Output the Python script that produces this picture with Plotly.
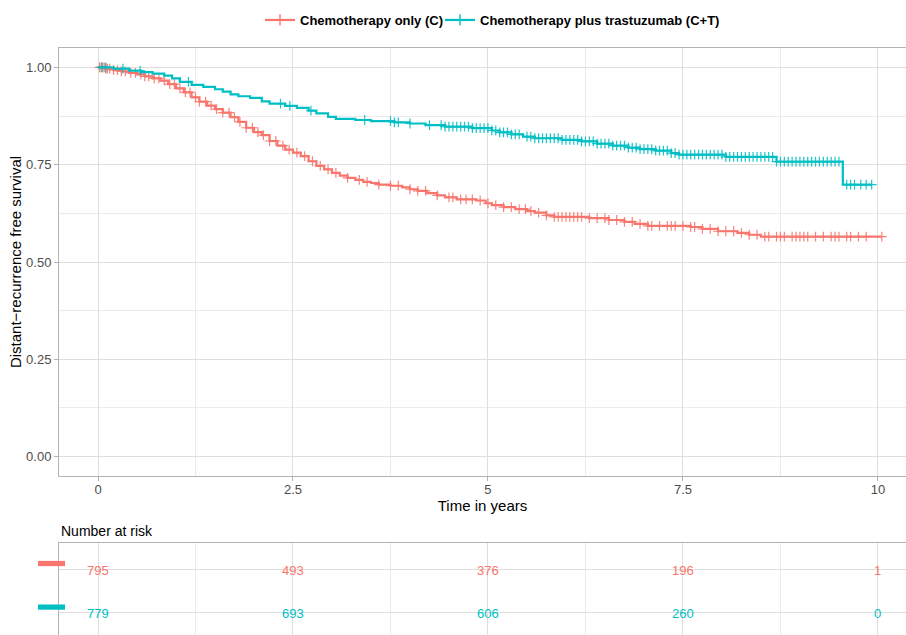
import plotly.graph_objects as go
import bisect

# ---------------- data ----------------
group_names = ["Chemotherapy only (C)", "Chemotherapy plus trastuzumab (C+T)"]
group_colors = ["#F8766D", "#00BFC4"]

# Kaplan-Meier step points (time in years, survival)
c_times = [0, 0.1, 0.2, 0.3, 0.4, 0.5, 0.6, 0.7, 0.8, 0.9, 1.0, 1.1, 1.2, 1.3, 1.4,
           1.5, 1.6, 1.7, 1.8, 1.9, 2.0, 2.1, 2.2, 2.3, 2.4, 2.5, 2.6, 2.7, 2.8, 2.9,
           3.0, 3.1, 3.2, 3.3, 3.4, 3.5, 3.6, 3.75, 3.9, 4.0, 4.1, 4.22, 4.35, 4.45,
           4.6, 4.85, 4.97, 5.05, 5.2, 5.35, 5.5, 5.6, 5.75, 5.85, 6.3, 6.55, 6.75,
           6.88, 7.05, 7.6, 7.75, 7.95, 8.2, 8.35, 8.5, 10.05]
c_surv = [1.0, 0.997, 0.993, 0.99, 0.986, 0.982, 0.977, 0.972, 0.966, 0.957, 0.946,
          0.936, 0.923, 0.912, 0.902, 0.893, 0.884, 0.872, 0.86, 0.845, 0.834, 0.826,
          0.811, 0.799, 0.789, 0.781, 0.772, 0.759, 0.747, 0.738, 0.729, 0.722, 0.716,
          0.711, 0.706, 0.703, 0.699, 0.696, 0.692, 0.687, 0.683, 0.677, 0.671, 0.666,
          0.661, 0.658, 0.651, 0.646, 0.641, 0.636, 0.631, 0.627, 0.62, 0.616, 0.613,
          0.608, 0.603, 0.598, 0.593, 0.59, 0.585, 0.579, 0.575, 0.57, 0.565, 0.565]

ct_times = [0, 0.2, 0.4, 0.55, 0.7, 0.85, 0.95, 1.05, 1.2, 1.35, 1.5, 1.6, 1.7, 1.8,
            1.95, 2.1, 2.2, 2.4, 2.55, 2.7, 2.8, 2.95, 3.05, 3.3, 3.5, 3.8, 4.0, 4.2,
            4.45, 4.8, 5.05, 5.15, 5.3, 5.45, 5.6, 5.95, 6.2, 6.4, 6.6, 6.8, 6.95,
            7.15, 7.35, 7.45, 8.05, 8.7, 9.55, 9.92]
ct_surv = [1.0, 0.997, 0.992, 0.988, 0.984, 0.979, 0.972, 0.963, 0.955, 0.95, 0.944,
           0.938, 0.931, 0.926, 0.922, 0.913, 0.907, 0.901, 0.896, 0.889, 0.882, 0.873,
           0.868, 0.865, 0.862, 0.859, 0.856, 0.852, 0.848, 0.844, 0.838, 0.833, 0.828,
           0.822, 0.818, 0.814, 0.81, 0.804, 0.799, 0.794, 0.79, 0.786, 0.78, 0.776,
           0.77, 0.758, 0.699, 0.699]

# censoring times (the "+" marks)
c_censor = [0.02, 0.04, 0.06, 0.08, 0.1, 0.12, 0.15, 0.2, 0.25, 0.3, 0.35, 0.42, 0.48,
            0.55, 0.6, 0.65, 0.72, 0.78, 0.85, 0.92, 0.98, 1.05, 1.12, 1.18, 1.25, 1.3,
            1.38, 1.45, 1.52, 1.6, 1.68, 1.75, 1.82, 1.9, 1.98, 2.05, 2.12, 2.2, 2.28,
            2.37, 2.45, 2.55, 2.65, 2.75, 2.85, 2.95, 3.05, 3.2, 3.35, 3.45, 3.6, 3.75,
            3.85, 4.0, 4.1, 4.2, 4.35, 4.5, 4.55, 4.65, 4.72, 4.8, 4.9, 5.0, 5.1, 5.2,
            5.3, 5.4, 5.48, 5.55, 5.65, 5.75, 5.85, 5.9, 5.95, 6.0, 6.05, 6.1, 6.15,
            6.2, 6.3, 6.4, 6.5, 6.55, 6.65, 6.75, 6.85, 6.95, 7.05, 7.1, 7.2, 7.3,
            7.35, 7.4, 7.5, 7.6, 7.65, 7.75, 7.85, 7.95, 8.05, 8.15, 8.25, 8.35, 8.45,
            8.55, 8.6, 8.7, 8.75, 8.8, 8.9, 8.95, 9.0, 9.05, 9.1, 9.2, 9.3, 9.4, 9.45,
            9.5, 9.6, 9.65, 9.75, 9.85, 10.05]
ct_censor = [0.05, 0.1, 0.32, 0.54, 1.16, 2.34, 2.46, 2.73, 3.42, 3.75, 3.8, 3.85, 4.0,
             4.25, 4.4, 4.45, 4.5, 4.55, 4.6, 4.65, 4.7, 4.75, 4.8, 4.85, 4.9, 4.95,
             5.0, 5.05, 5.1, 5.15, 5.2, 5.25, 5.3, 5.35, 5.4, 5.5, 5.55, 5.6, 5.65,
             5.7, 5.75, 5.8, 5.85, 5.9, 5.95, 6.0, 6.05, 6.1, 6.15, 6.2, 6.25, 6.3,
             6.35, 6.4, 6.45, 6.5, 6.55, 6.6, 6.65, 6.7, 6.75, 6.8, 6.85, 6.9, 6.95,
             7.0, 7.05, 7.1, 7.15, 7.2, 7.25, 7.3, 7.35, 7.4, 7.45, 7.5, 7.55, 7.6,
             7.65, 7.7, 7.75, 7.8, 7.85, 7.9, 7.95, 8.0, 8.05, 8.1, 8.15, 8.2, 8.25,
             8.3, 8.35, 8.4, 8.45, 8.5, 8.55, 8.6, 8.65, 8.7, 8.75, 8.8, 8.85, 8.9,
             8.95, 9.0, 9.05, 9.1, 9.15, 9.2, 9.25, 9.3, 9.35, 9.4, 9.45, 9.5, 9.6,
             9.65, 9.7, 9.78, 9.85, 9.92]

# number at risk table
risk_times = [0, 2.5, 5, 7.5, 10]
risk_c = [795, 493, 376, 196, 1]
risk_ct = [779, 693, 606, 260, 0]

x_ticks = [0, 2.5, 5, 7.5, 10]
x_tick_labels = ["0", "2.5", "5", "7.5", "10"]
y_ticks = [0, 0.25, 0.5, 0.75, 1.0]
y_tick_labels = ["0.00", "0.25", "0.50", "0.75", "1.00"]

# ---------------- helpers ----------------
def surv_at(times, surv, t):
    i = bisect.bisect_right(times, t) - 1
    return surv[max(i, 0)]

FONT = "Liberation Sans, Arial, Helvetica, sans-serif"
GRID = "#DEDEDE"
GRID_MINOR = "#EBEBEB"
BORDER = "#B3B3B3"

H = 635
T = 48
plot_h = H - T
main_bottom = (H - 476) / plot_h
risk_top = (H - 543) / plot_h

fig = go.Figure()

legend_ids = ["legend", "legend2"]
curves = [(c_times, c_surv, c_censor), (ct_times, ct_surv, ct_censor)]
for (tt, ss, cens), name, col, lg in zip(curves, group_names, group_colors, legend_ids):
    fig.add_trace(go.Scatter(x=tt, y=ss, mode="lines", line=dict(color=col, width=2.2, shape="hv"),
                             showlegend=False, hoverinfo="skip", xaxis="x", yaxis="y"))
    fig.add_trace(go.Scatter(x=cens, y=[surv_at(tt, ss, t) for t in cens], mode="markers",
                             marker=dict(symbol="cross-thin", size=7, color=col, opacity=0.9,
                                         line=dict(color=col, width=1.2)),
                             showlegend=False, hoverinfo="skip", xaxis="x", yaxis="y"))
    # legend entry
    fig.add_trace(go.Scatter(x=[None], y=[None], mode="lines+markers", name=name, legend=lg,
                             line=dict(color=col, width=2.2),
                             marker=dict(symbol="cross-thin", size=8, color=col,
                                         line=dict(color=col, width=1.4)),
                             xaxis="x", yaxis="y"))

# risk table text (data-positioned annotations on the table axes)
for row, (vals, col) in enumerate([(risk_c, group_colors[0]), (risk_ct, group_colors[1])], start=1):
    for t, v in zip(risk_times, vals):
        fig.add_annotation(x=t, y=row, xref="x2", yref="y2", text=str(v), showarrow=False,
                           yshift=-1, font=dict(color=col, size=13, family=FONT))

xcommon = dict(range=[-0.5, 10.36], tickvals=x_ticks, showgrid=True, gridcolor=GRID, gridwidth=1,
               minor=dict(tickvals=[1.25, 3.75, 6.25, 8.75], showgrid=True, gridcolor=GRID_MINOR,
                          gridwidth=0.6),
               zeroline=False, linecolor=BORDER, linewidth=1, automargin=False)

legend_common = dict(orientation="h", xanchor="left", y=1 + (T - 20) / plot_h, yanchor="middle",
                     font=dict(size=13, weight="bold", color="#000000"), itemwidth=30,
                     bgcolor="rgba(0,0,0,0)")

fig.update_layout(
    width=906, height=635,
    margin=dict(l=59, r=0, t=T, b=0, autoexpand=False),
    paper_bgcolor="white", plot_bgcolor="white",
    font=dict(family=FONT, color="#000000"),
    showlegend=True,
    legend=dict(x=(260 - 59) / 847, **legend_common),
    legend2=dict(x=(440 - 59) / 847, **legend_common),
    xaxis=dict(domain=[0, 1], anchor="y", ticktext=x_tick_labels, showline=True, mirror=True,
               ticks="outside", ticklen=4, tickcolor=BORDER, tickwidth=1, ticklabelstandoff=-3,
               tickfont=dict(size=13, color="#4D4D4D"),
               title=dict(text="Time in years", font=dict(size=15, color="#000000"), standoff=0),
               **xcommon),
    yaxis=dict(domain=[main_bottom, 1], anchor="x", range=[-0.05, 1.05], tickvals=y_ticks,
               ticktext=y_tick_labels, showgrid=True, gridcolor=GRID, gridwidth=1,
               minor=dict(tickvals=[0.125, 0.375, 0.625, 0.875], showgrid=True,
                          gridcolor=GRID_MINOR, gridwidth=0.6),
               zeroline=False, showline=True, linecolor=BORDER, linewidth=1,
               ticks="outside", ticklen=4, tickcolor=BORDER, tickwidth=1, automargin=False,
               tickfont=dict(size=13, color="#4D4D4D"),
               title=dict(text="Distant\u2212recurrence free survival",
                          font=dict(size=15, color="#000000"), standoff=0)),
    xaxis2=dict(domain=[0, 1], anchor="y2", side="top", showticklabels=False, showline=True,
                ticks="", **xcommon),
    yaxis2=dict(domain=[0, risk_top], anchor="x2", range=[2.51, 0.4], tickvals=[1, 2],
                showticklabels=False, ticks="", showgrid=True, gridcolor=GRID, gridwidth=1,
                zeroline=False, showline=True, linecolor=BORDER, linewidth=1, automargin=False),
)

# "Number at risk" title
fig.add_annotation(text="Number at risk", xref="paper", yref="paper", x=0, xanchor="left",
                   y=(H - 531) / plot_h, yanchor="middle", showarrow=False,
                   font=dict(size=14, color="#000000", family=FONT))

# colored strata keys on the risk table
for row, col in zip([1, 2], group_colors):
    fig.add_shape(type="rect", xref="paper", yref="y2", x0=-0.0248, x1=0.0071,
                  y0=row - 0.19, y1=row - 0.07, fillcolor=col, line=dict(width=0), layer="above")

fig.write_html("out.html", config={"displayModeBar": False},
               post_script="document.body.style.margin='0';document.body.style.overflow='hidden';")
